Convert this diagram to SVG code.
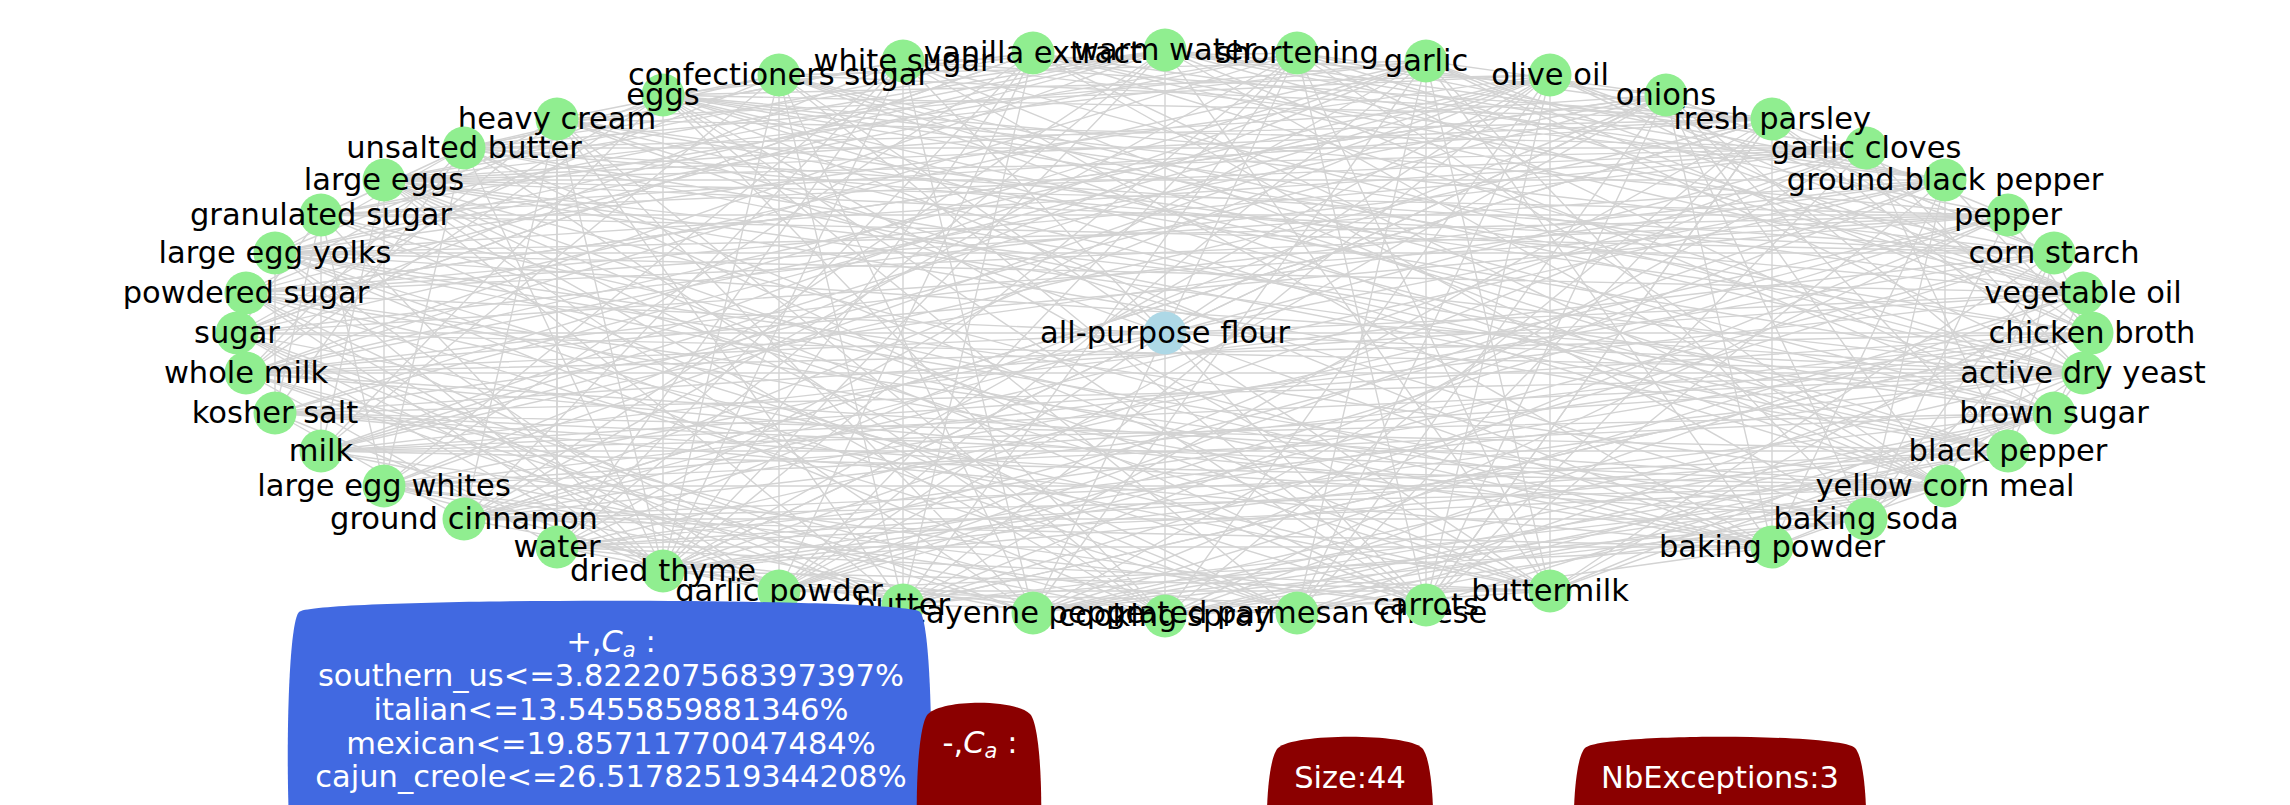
<svg xmlns="http://www.w3.org/2000/svg" width="2290" height="805" viewBox="0 0 2290 805">
<style>
.edge{fill:none;stroke:#d3d3d3;stroke-width:1.4}
.nd{fill:#90ee90}
.ctr{fill:#add8e6}
.lbl{font-family:"DejaVu Sans","Liberation Sans",sans-serif;font-size:30.5px;fill:#000;text-anchor:middle}
.btxt{font-family:"DejaVu Sans","Liberation Sans",sans-serif;font-size:30.5px;fill:#fff;text-anchor:middle}
.blue{fill:#4169e1}
.red{fill:#8b0000}
</style>
<rect width="2290" height="805" fill="#fff"/>
<g id="connectors">
<path class="edge" d="M2092 333L2054 253M2083 293L1550 75M2054 253L1666 95M2008 215L1772 119M1945 180L1033 53M1866 148L1165 50M1772 119L1297 53M1666 95L1426 61M1550 75L663 95M1426 61L779 75M1297 53L903 61M1165 50L321 215M1033 53L384 180M903 61L464 148M779 75L557 119M663 95L237 333M557 119L246 293M464 148L275 253M384 180L384 486M321 215L321 451M275 253L275 413M246 293L246 373M237 333L663 571M246 373L557 547M275 413L464 519M321 451L1165 616M384 486L1033 613M464 519L903 605M557 547L779 591M663 571L1550 591M779 591L1426 605M903 605L1297 613M1033 613L1945 486M1165 616L1866 519M1297 613L1772 547M1550 591L2083 373M1772 547L2008 451M1866 519L2008 215M1945 486L2054 253M2008 451L2083 293M2054 413L2092 333M2083 373L1772 119"/>
<path class="edge" d="M2092 333L1426 61M2083 293L1165 50M2054 253L663 95M2008 215L246 293M1945 180L384 180M1866 148L464 148M1772 119L384 180M1666 95L246 293M1550 75L384 486M1426 61L237 333M1297 53L275 253M1165 50L275 253M1033 53L237 333M903 61L384 486M779 75L1033 613M663 95L663 571M557 119L557 547M464 148L663 571M384 180L1033 613M275 253L1165 616M246 293L903 605M237 333L903 605M246 373L1165 616M321 451L2083 373M384 486L1945 486M464 519L1866 519M557 547L1945 486M663 571L2083 373M779 591L1945 180M903 605L2092 333M1033 613L2054 413M1165 616L2054 413M1297 613L2092 333M1426 605L1945 180M1550 591L1297 53M1772 547L1772 119M1866 519L1666 95M1945 486L1297 53M2008 451L663 95M2054 413L1165 50M2083 373L1426 61"/>
<path class="edge" d="M2092 333L663 95M2083 293L275 253M2054 253L321 215M2008 215L275 253M1945 180L246 373M1866 148L275 253M1772 119L464 519M1666 95L557 547M1550 75L246 373M1426 61L557 547M1297 53L464 519M1165 50L557 547M1033 53L903 605M903 61L557 547M779 75L1426 605M663 95L1550 591M557 119L903 605M464 148L1550 591M384 180L1426 605M321 215L1550 591M275 253L1866 519M246 293L1550 591M237 333L2083 373M246 373L2092 333M275 413L1866 519M321 451L2092 333M384 486L2083 373M464 519L2092 333M557 547L2008 215M663 571L2092 333M779 591L1666 95M903 605L1550 75M1033 613L2008 215M1165 616L1550 75M1297 613L1666 95M1426 605L1550 75M1550 591L1165 50M1772 547L663 95M1866 519L557 119M1945 486L1165 50M2008 451L557 119M2054 413L663 95M2083 373L557 119"/>
<path class="edge" d="M2092 333L1945 180M2083 293L1033 53M2054 253L1666 95M2008 215L663 95M1945 180L1297 53M1866 148L384 180M1772 119L903 61M1666 95L246 293M1550 75L557 119M1426 61L275 413M1297 53L321 215M1165 50L464 519M1033 53L237 333M903 61L464 148M779 75L321 451M663 95L275 253M557 119L557 547M464 148L246 373M384 180L903 605M321 215L384 486M275 253L1297 613M246 293L663 571M246 373L1033 613M275 413L1945 486M321 451L1426 605M384 486L779 591M464 519L1772 547M557 547L1165 616M663 571L2008 451M779 591L1550 591M903 605L2092 333M1033 613L1866 519M1165 616L2008 215M1297 613L2054 413M1426 605L1772 119M1550 591L2083 293M1772 547L1945 180M1866 519L2083 373M1945 486L1666 95M2008 451L2054 253M2054 413L1297 53M2083 373L1866 148"/>
<path class="edge" d="M2092 333L2083 293M2083 293L663 95M2054 253L1550 75M2008 215L237 333M1945 180L903 61M1866 148L464 519M1772 119L321 215M1666 95L1165 50M1550 75L321 451M1426 61L464 148M1297 53L903 605M1165 50L246 373M1033 53L663 95M903 61L663 571M779 75L246 293M663 95L1426 605M557 119L464 519M464 148L321 215M384 180L1165 616M321 215L275 413M275 253L1772 547M246 293L779 591M237 333L246 373M275 413L663 571M321 451L2054 413M384 486L1426 605M464 519L1772 119M557 547L2008 451M663 571L1165 616M779 591L2008 215M903 605L1866 519M1033 613L1426 61M1165 616L2083 293M1426 605L1666 95M1550 591L2054 413M1772 547L1426 61M1866 519L2083 293M1945 486L663 95M2008 451L1666 95M2054 413L2083 373M2083 373L903 61"/>
<path class="edge" d="M2092 333L1772 119M2083 293L1426 61M2054 253L1033 53M2008 215L384 180M1945 180L384 486M1866 148L321 215M1772 119L779 75M1666 95L663 571M1550 75L464 519M1426 61L779 591M1297 53L1033 613M1165 50L384 180M1033 53L384 486M903 61L1426 605M779 75L663 571M663 95L321 451M557 119L246 373M464 148L275 413M384 180L321 451M321 215L663 571M275 253L1426 605M246 293L2083 373M237 333L1550 591M246 373L903 605M275 413L2083 293M321 451L2054 253M384 486L2083 293M464 519L1945 180M557 547L1550 591M663 571L2054 413M779 591L1550 75M903 605L2054 253M1033 613L2008 451M1165 616L1945 486M1297 613L1945 486M1426 605L2054 413M1550 591L2054 253M1772 547L557 119M1866 519L1426 61M1945 486L1945 180M2008 451L384 180M2054 413L464 148M2083 373L384 180"/>
<path class="edge" d="M2092 333L2008 215M2083 293L1297 53M2054 253L275 253M2008 215L1165 50M1945 180L275 413M1866 148L246 293M1772 119L464 148M1666 95L384 180M1550 75L275 253M1426 61L321 451M1297 53L779 591M1165 50L246 293M1033 53L663 571M903 61L237 333M779 75L464 148M663 95L1165 616M557 119L1033 613M464 148L1165 616M384 180L1550 591M321 215L237 333M275 253L663 571M246 293L1772 547M237 333L779 591M246 373L2083 373M275 413L1772 547M464 519L1945 486M557 547L2083 373M663 571L1866 148M779 591L1772 547M903 605L1945 180M1033 613L2083 373M1165 616L1550 591M1297 613L1550 75M1426 605L1866 148M1550 591L1550 75M1772 547L1945 486M1866 519L1945 180M1945 486L903 61M2008 451L1866 148M2054 413L384 180M2083 373L779 75M1165 50L1165 616M903 61L903 605M1426 61L1426 605"/>
<path class="edge" d="M2092 333L557 119M2083 293L246 373M2054 253L384 180M2008 215L246 373M1945 180L246 293M1866 148L237 333M1772 119L321 451M1666 95L246 373M1550 75L663 571M1426 61L384 486M1297 53L663 571M1165 50L663 571M1033 53L779 591M903 61L1033 613M779 75L779 591M663 95L1297 613M557 119L1165 616M464 148L1426 605M384 180L1297 613M321 215L1297 613M275 253L1945 486M246 293L1866 519M237 333L2092 333M246 373L1866 519M275 413L2083 373M321 451L2008 451M384 486L2054 413M464 519L2054 253M557 547L2092 333M663 571L1666 95M779 591L2054 253M903 605L1772 119M1033 613L1866 148M1165 616L1772 119M1297 613L1426 61M1426 605L1297 53M1550 591L779 75M1772 547L903 61M1866 519L1033 53M1945 486L1033 53M2008 451L464 148M2054 413L779 75M2083 373L275 253"/>
<path class="edge" d="M2092 333L1550 75M2083 293L464 148M2054 253L464 148M2008 215L321 215M1945 180L1165 50M1866 148L557 119M1772 119L663 95M1666 95L321 451M1550 75L275 413M1426 61L384 180M1297 53L246 373M1165 50L464 148M1033 53L557 547M903 61L464 519M779 75L903 605M663 95L246 373M557 119L663 571M464 148L384 486M384 180L1772 547M321 215L1772 547M275 253L779 591M246 293L1297 613M237 333L1033 613M246 373L1945 486M275 413L2008 451M321 451L1945 486M384 486L1297 613M464 519L2008 451M557 547L1772 547M663 571L2008 215M779 591L1866 148M903 605L1945 486M1033 613L2083 293M1165 616L2008 451M1297 613L1772 119M1426 605L1772 119M1550 591L1426 61M1772 547L1666 95M1866 519L2054 253M1945 486L779 75M2008 451L779 75M2054 413L1666 95M2083 373L1033 53"/>
</g>
<g id="nodes">
<g id="n-chicken-broth"><circle class="nd" cx="2092" cy="333" r="21.5"/><text class="lbl" x="2092" y="343">chicken broth</text></g>
<g id="n-vegetable-oil"><circle class="nd" cx="2083" cy="293" r="21.5"/><text class="lbl" x="2083" y="303">vegetable oil</text></g>
<g id="n-corn-starch"><circle class="nd" cx="2054" cy="253" r="21.5"/><text class="lbl" x="2054" y="263">corn starch</text></g>
<g id="n-pepper"><circle class="nd" cx="2008" cy="215" r="21.5"/><text class="lbl" x="2008" y="225">pepper</text></g>
<g id="n-ground-black-pepper"><circle class="nd" cx="1945" cy="180" r="21.5"/><text class="lbl" x="1945" y="190">ground black pepper</text></g>
<g id="n-garlic-cloves"><circle class="nd" cx="1866" cy="148" r="21.5"/><text class="lbl" x="1866" y="158">garlic cloves</text></g>
<g id="n-fresh-parsley"><circle class="nd" cx="1772" cy="119" r="21.5"/><text class="lbl" x="1772" y="129">fresh parsley</text></g>
<g id="n-onions"><circle class="nd" cx="1666" cy="95" r="21.5"/><text class="lbl" x="1666" y="105">onions</text></g>
<g id="n-olive-oil"><circle class="nd" cx="1550" cy="75" r="21.5"/><text class="lbl" x="1550" y="85">olive oil</text></g>
<g id="n-garlic"><circle class="nd" cx="1426" cy="61" r="21.5"/><text class="lbl" x="1426" y="71">garlic</text></g>
<g id="n-shortening"><circle class="nd" cx="1297" cy="53" r="21.5"/><text class="lbl" x="1297" y="63">shortening</text></g>
<g id="n-warm-water"><circle class="nd" cx="1165" cy="50" r="21.5"/><text class="lbl" x="1165" y="60">warm water</text></g>
<g id="n-vanilla-extract"><circle class="nd" cx="1033" cy="53" r="21.5"/><text class="lbl" x="1033" y="63">vanilla extract</text></g>
<g id="n-white-sugar"><circle class="nd" cx="903" cy="61" r="21.5"/><text class="lbl" x="903" y="71">white sugar</text></g>
<g id="n-eggs"><circle class="nd" cx="663" cy="95" r="21.5"/><text class="lbl" x="663" y="105">eggs</text></g>
<g id="n-confectioners-sugar"><circle class="nd" cx="779" cy="75" r="21.5"/><text class="lbl" x="779" y="85">confectioners sugar</text></g>
<g id="n-heavy-cream"><circle class="nd" cx="557" cy="119" r="21.5"/><text class="lbl" x="557" y="129">heavy cream</text></g>
<g id="n-unsalted-butter"><circle class="nd" cx="464" cy="148" r="21.5"/><text class="lbl" x="464" y="158">unsalted butter</text></g>
<g id="n-large-eggs"><circle class="nd" cx="384" cy="180" r="21.5"/><text class="lbl" x="384" y="190">large eggs</text></g>
<g id="n-granulated-sugar"><circle class="nd" cx="321" cy="215" r="21.5"/><text class="lbl" x="321" y="225">granulated sugar</text></g>
<g id="n-large-egg-yolks"><circle class="nd" cx="275" cy="253" r="21.5"/><text class="lbl" x="275" y="263">large egg yolks</text></g>
<g id="n-powdered-sugar"><circle class="nd" cx="246" cy="293" r="21.5"/><text class="lbl" x="246" y="303">powdered sugar</text></g>
<g id="n-sugar"><circle class="nd" cx="237" cy="333" r="21.5"/><text class="lbl" x="237" y="343">sugar</text></g>
<g id="n-whole-milk"><circle class="nd" cx="246" cy="373" r="21.5"/><text class="lbl" x="246" y="383">whole milk</text></g>
<g id="n-kosher-salt"><circle class="nd" cx="275" cy="413" r="21.5"/><text class="lbl" x="275" y="423">kosher salt</text></g>
<g id="n-milk"><circle class="nd" cx="321" cy="451" r="21.5"/><text class="lbl" x="321" y="461">milk</text></g>
<g id="n-large-egg-whites"><circle class="nd" cx="384" cy="486" r="21.5"/><text class="lbl" x="384" y="496">large egg whites</text></g>
<g id="n-ground-cinnamon"><circle class="nd" cx="464" cy="519" r="21.5"/><text class="lbl" x="464" y="529">ground cinnamon</text></g>
<g id="n-water"><circle class="nd" cx="557" cy="547" r="21.5"/><text class="lbl" x="557" y="557">water</text></g>
<g id="n-dried-thyme"><circle class="nd" cx="663" cy="571" r="21.5"/><text class="lbl" x="663" y="581">dried thyme</text></g>
<g id="n-garlic-powder"><circle class="nd" cx="779" cy="591" r="21.5"/><text class="lbl" x="779" y="601">garlic powder</text></g>
<g id="n-butter"><circle class="nd" cx="903" cy="605" r="21.5"/><text class="lbl" x="903" y="615">butter</text></g>
<g id="n-cayenne-pepper"><circle class="nd" cx="1033" cy="613" r="21.5"/><text class="lbl" x="1033" y="623">cayenne pepper</text></g>
<g id="n-cooking-spray"><circle class="nd" cx="1165" cy="616" r="21.5"/><text class="lbl" x="1165" y="626">cooking spray</text></g>
<g id="n-grated-parmesan-cheese"><circle class="nd" cx="1297" cy="613" r="21.5"/><text class="lbl" x="1297" y="623">grated parmesan cheese</text></g>
<g id="n-carrots"><circle class="nd" cx="1426" cy="605" r="21.5"/><text class="lbl" x="1426" y="615">carrots</text></g>
<g id="n-buttermilk"><circle class="nd" cx="1550" cy="591" r="21.5"/><text class="lbl" x="1550" y="601">buttermilk</text></g>
<g id="n-baking-powder"><circle class="nd" cx="1772" cy="547" r="21.5"/><text class="lbl" x="1772" y="557">baking powder</text></g>
<g id="n-baking-soda"><circle class="nd" cx="1866" cy="519" r="21.5"/><text class="lbl" x="1866" y="529">baking soda</text></g>
<g id="n-yellow-corn-meal"><circle class="nd" cx="1945" cy="486" r="21.5"/><text class="lbl" x="1945" y="496">yellow corn meal</text></g>
<g id="n-black-pepper"><circle class="nd" cx="2008" cy="451" r="21.5"/><text class="lbl" x="2008" y="461">black pepper</text></g>
<g id="n-brown-sugar"><circle class="nd" cx="2054" cy="413" r="21.5"/><text class="lbl" x="2054" y="423">brown sugar</text></g>
<g id="n-active-dry-yeast"><circle class="nd" cx="2083" cy="373" r="21.5"/><text class="lbl" x="2083" y="383">active dry yeast</text></g>
<g id="n-all-purpose-flour"><circle class="ctr" cx="1165" cy="333" r="21.5"/><text class="lbl" x="1165" y="343">all-purpose flour</text></g>
</g>
<g id="legend">
<g id="box-positive">
<path class="blue" d="M299 612C314 597 905 597 920 612C935 627 935 885 920 900C905 915 314 915 299 900C284 885 284 627 299 612Z"/>
<text class="btxt" x="611" y="652">+,<tspan font-style="italic">C</tspan><tspan font-style="italic" font-size="21" dy="5">a</tspan><tspan dy="-5"> :</tspan></text>
<text class="btxt" x="611" y="686">southern_us&lt;=3.822207568397397%</text>
<text class="btxt" x="611" y="720">italian&lt;=13.5455859881346%</text>
<text class="btxt" x="611" y="754">mexican&lt;=19.85711770047484%</text>
<text class="btxt" x="611" y="787">cajun_creole&lt;=26.51782519344208%</text>
</g>
<g id="box-negative">
<path class="red" d="M928 714C943 699 1015 699 1030 714C1045 729 1045 885 1030 900C1015 915 943 915 928 900C913 885 913 729 928 714Z"/>
<text class="btxt" x="980" y="753">-,<tspan font-style="italic">C</tspan><tspan font-style="italic" font-size="21" dy="5">a</tspan><tspan dy="-5"> :</tspan></text>
</g>
<g id="box-size">
<path class="red" d="M1278 748C1293 733 1407 733 1422 748C1437 763 1437 885 1422 900C1407 915 1293 915 1278 900C1263 885 1263 763 1278 748Z"/>
<text class="btxt" x="1350" y="788">Size:44</text>
</g>
<g id="box-exceptions">
<path class="red" d="M1585 748C1600 733 1840 733 1855 748C1870 763 1870 885 1855 900C1840 915 1600 915 1585 900C1570 885 1570 763 1585 748Z"/>
<text class="btxt" x="1720" y="788">NbExceptions:3</text>
</g>
</g>
</svg>
